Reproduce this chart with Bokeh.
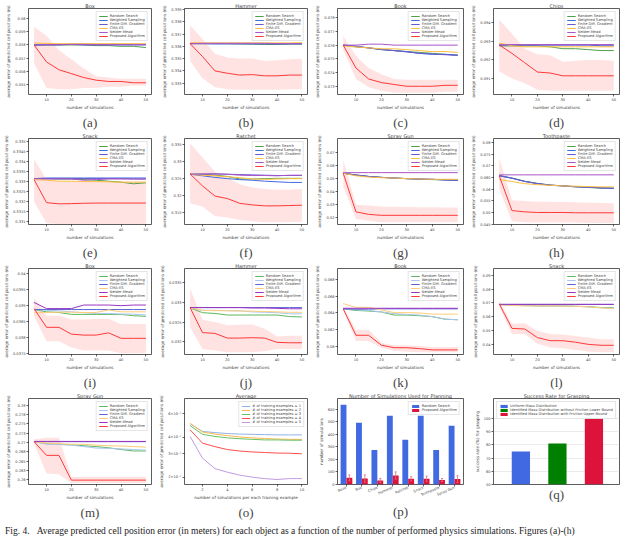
from bokeh.plotting import figure
from bokeh.models import Range1d, FixedTicker, Title, ColumnDataSource, FactorRange, Div
from bokeh.layouts import gridplot, column
from bokeh.transform import dodge
from bokeh.embed import file_html
from bokeh.resources import INLINE

# ---------------- data ----------------
X_SIM = [5, 10, 15, 20, 25, 30, 35, 40, 45, 50]
METHODS = ["Random Search", "Weighted Sampling", "Finite Diff. Gradient", "CMA-ES", "Nelder-Mead", "Proposed Algorithm"]

A_RS = [0.0580, 0.0580, 0.0580, 0.0580, 0.0580, 0.05795, 0.05795, 0.0579, 0.0579, 0.0578]
A_WS = [0.0580, 0.05805, 0.05805, 0.05805, 0.05805, 0.05805, 0.05805, 0.05805, 0.05805, 0.05805]
A_FD = [0.0580, 0.0580, 0.0580, 0.05805, 0.0580, 0.0580, 0.0580, 0.0580, 0.0580, 0.0580]
A_CM = [0.05815, 0.05812, 0.0581, 0.0581, 0.0581, 0.0581, 0.0581, 0.0581, 0.0581, 0.0581]
A_NM = [0.0580, 0.05803, 0.05803, 0.05805, 0.05805, 0.05803, 0.05803, 0.05803, 0.05803, 0.05803]
A_PA = [0.0580, 0.0567, 0.0561, 0.0558, 0.0555, 0.0553, 0.0552, 0.0552, 0.0551, 0.0551]
A_LO = [0.0566, 0.0547, 0.0546, 0.0546, 0.0547, 0.0547, 0.0548, 0.0548, 0.0549, 0.0549]
A_HI = [0.0594, 0.0587, 0.0576, 0.0569, 0.0562, 0.0556, 0.0555, 0.0554, 0.0554, 0.0554]

B_RS = [0.33622, 0.33622, 0.33622, 0.33622, 0.3362, 0.33618, 0.33615, 0.33615, 0.33618, 0.33618]
B_WS = [0.33622, 0.33622, 0.3362, 0.3362, 0.3362, 0.3362, 0.3362, 0.3362, 0.3362, 0.3362]
B_FD = [0.33622, 0.33622, 0.33622, 0.33622, 0.33622, 0.33622, 0.33622, 0.33622, 0.33622, 0.33622]
B_CM = [0.3363, 0.33628, 0.33628, 0.33628, 0.33628, 0.33628, 0.33628, 0.33628, 0.33628, 0.3363]
B_NM = [0.33622, 0.33625, 0.33625, 0.33625, 0.33625, 0.33625, 0.33625, 0.33622, 0.33622, 0.33622]
B_PA = [0.33622, 0.33517, 0.3340, 0.33381, 0.33366, 0.3337, 0.3336, 0.3336, 0.33366, 0.33366]
B_LO = [0.3348, 0.3334, 0.33268, 0.3325, 0.33246, 0.33246, 0.33246, 0.33246, 0.3325, 0.3325]
B_HI = [0.33772, 0.3366, 0.3354, 0.3351, 0.33502, 0.33502, 0.3348, 0.33487, 0.33495, 0.3350]

C_RS = [0.0760, 0.07587, 0.0758, 0.07567, 0.0756, 0.07553, 0.07547, 0.0754, 0.07533, 0.07527]
C_WS = [0.0760, 0.07593, 0.0758, 0.07567, 0.0756, 0.07553, 0.0754, 0.07533, 0.07533, 0.07527]
C_FD = [0.0760, 0.0759, 0.0758, 0.0757, 0.0756, 0.0755, 0.0754, 0.07535, 0.0753, 0.07525]
C_CM = [0.07593, 0.07587, 0.0758, 0.07573, 0.07573, 0.07567, 0.0756, 0.07553, 0.07553, 0.07547]
C_NM = [0.0760, 0.0760, 0.07607, 0.07607, 0.0760, 0.0760, 0.0760, 0.0760, 0.0760, 0.0760]
C_PA = [0.0760, 0.07433, 0.07353, 0.07327, 0.07313, 0.0730, 0.0730, 0.0730, 0.07307, 0.07307]
C_LO = [0.07567, 0.07353, 0.07293, 0.07267, 0.07253, 0.07253, 0.07253, 0.07253, 0.0726, 0.0726]
C_HI = [0.07667, 0.0752, 0.07433, 0.07387, 0.07353, 0.07347, 0.07347, 0.07347, 0.07347, 0.07347]

D_RS = [0.09275, 0.09275, 0.09275, 0.09275, 0.0927, 0.0926, 0.0926, 0.09255, 0.0925, 0.0925]
D_WS = [0.0928, 0.0928, 0.0928, 0.0928, 0.0928, 0.0928, 0.0928, 0.0928, 0.09275, 0.09275]
D_FD = [0.0928, 0.0928, 0.0928, 0.0928, 0.0928, 0.0928, 0.0928, 0.0928, 0.0928, 0.0928]
D_CM = [0.0929, 0.09275, 0.0927, 0.0927, 0.0927, 0.0927, 0.0927, 0.0927, 0.0927, 0.0927]
D_NM = [0.0928, 0.09282, 0.09282, 0.09282, 0.09282, 0.09282, 0.09282, 0.09282, 0.09282, 0.09282]
D_PA = [0.0928, 0.09235, 0.09185, 0.09135, 0.0913, 0.09115, 0.09115, 0.09115, 0.09115, 0.09115]
D_LO = [0.0914, 0.0910, 0.09075, 0.0904, 0.09035, 0.09035, 0.09035, 0.09035, 0.09035, 0.09035]
D_HI = [0.09415, 0.0934, 0.0926, 0.0923, 0.09225, 0.0919, 0.09195, 0.0920, 0.0920, 0.09195]

E_RS = [0.33313, 0.33313, 0.33311, 0.33311, 0.33308, 0.33305, 0.3330, 0.33295, 0.33287, 0.33292]
E_WS = [0.33313, 0.33316, 0.33316, 0.33316, 0.33316, 0.33316, 0.33316, 0.33316, 0.33316, 0.33316]
E_FD = [0.33313, 0.33313, 0.33313, 0.33313, 0.33313, 0.33313, 0.33313, 0.33313, 0.33311, 0.33311]
E_CM = [0.33308, 0.33305, 0.3330, 0.3330, 0.33298, 0.33298, 0.33297, 0.33295, 0.33295, 0.33295]
E_NM = [0.33313, 0.33311, 0.33311, 0.33311, 0.33305, 0.33308, 0.33311, 0.33311, 0.33311, 0.33311]
E_PA = [0.33308, 0.33193, 0.33187, 0.33188, 0.3319, 0.33191, 0.33191, 0.33191, 0.33191, 0.33191]
E_LO = [0.33198, 0.3309, 0.33087, 0.33087, 0.33087, 0.33087, 0.33087, 0.33087, 0.33087, 0.33087]
E_HI = [0.3341, 0.33308, 0.3330, 0.3330, 0.3330, 0.3330, 0.3330, 0.3330, 0.3330, 0.3330]

F_RS = [0.3262, 0.3262, 0.32592, 0.32556, 0.32481, 0.32481, 0.32491, 0.3250, 0.3250, 0.3250]
F_WS = [0.3262, 0.32574, 0.32528, 0.32491, 0.32463, 0.32444, 0.32417, 0.32398, 0.3238, 0.3238]
F_FD = [0.3262, 0.3262, 0.3263, 0.3262, 0.32611, 0.32602, 0.32592, 0.32583, 0.32583, 0.32583]
F_CM = [0.3262, 0.32592, 0.32574, 0.32546, 0.32519, 0.32481, 0.32472, 0.32481, 0.32491, 0.32491]
F_NM = [0.3262, 0.3263, 0.3263, 0.3262, 0.32592, 0.32583, 0.32583, 0.32574, 0.32592, 0.32592]
F_PA = [0.3263, 0.32278, 0.31981, 0.31907, 0.31768, 0.31722, 0.31694, 0.31694, 0.31704, 0.31713]
F_LO = [0.31768, 0.31676, 0.31398, 0.31352, 0.31278, 0.31241, 0.31213, 0.31213, 0.31213, 0.31231]
F_HI = [0.33528, 0.33111, 0.32694, 0.32509, 0.32324, 0.32231, 0.32185, 0.32167, 0.32167, 0.32185]

G_RS = [0.05415, 0.05293, 0.0517, 0.05097, 0.05049, 0.0500, 0.0495, 0.04926, 0.04902, 0.04902]
G_WS = [0.05415, 0.05268, 0.0517, 0.05097, 0.05049, 0.0500, 0.04975, 0.0495, 0.04902, 0.04853]
G_FD = [0.05415, 0.0528, 0.0517, 0.0510, 0.0505, 0.0500, 0.0497, 0.0495, 0.0490, 0.0487]
G_CM = [0.05415, 0.0522, 0.05122, 0.05073, 0.05049, 0.0500, 0.04975, 0.0495, 0.0495, 0.0495]
G_NM = [0.05463, 0.05463, 0.05463, 0.05463, 0.05463, 0.05463, 0.05463, 0.05463, 0.05463, 0.05463]
G_PA = [0.05415, 0.02437, 0.02242, 0.02168, 0.02168, 0.02168, 0.02168, 0.02168, 0.02168, 0.02168]
G_LO = [0.04438, 0.01876, 0.01754, 0.01632, 0.01632, 0.01632, 0.01632, 0.01632, 0.01632, 0.01632]
G_HI = [0.06439, 0.02976, 0.02927, 0.02854, 0.0283, 0.0281, 0.0280, 0.0279, 0.0278, 0.02779]

H_RS = [0.06582, 0.06475, 0.0634, 0.06245, 0.06178, 0.06137, 0.06096, 0.06069, 0.06042, 0.06029]
H_WS = [0.06569, 0.06461, 0.06326, 0.06232, 0.06164, 0.06137, 0.0611, 0.06083, 0.06056, 0.06042]
H_FD = [0.06575, 0.0647, 0.0633, 0.0624, 0.0617, 0.0614, 0.0610, 0.0608, 0.0605, 0.0604]
H_CM = [0.06407, 0.06326, 0.06232, 0.06191, 0.06164, 0.06137, 0.06124, 0.0611, 0.06096, 0.06096]
H_NM = [0.0661, 0.0661, 0.0661, 0.0661, 0.0661, 0.0661, 0.0661, 0.0661, 0.0661, 0.0661]
H_PA = [0.06569, 0.05084, 0.0503, 0.05003, 0.05003, 0.05003, 0.0499, 0.0499, 0.0499, 0.0499]
H_LO = [0.06002, 0.04625, 0.04584, 0.04571, 0.04571, 0.04571, 0.04571, 0.04557, 0.04557, 0.04544]
H_HI = [0.07325, 0.0553, 0.05489, 0.05462, 0.05462, 0.05448, 0.05435, 0.05421, 0.05408, 0.05395]

I_RS = [0.03887, 0.0388, 0.03878, 0.03872, 0.03872, 0.03872, 0.03872, 0.03872, 0.03868, 0.03866]
I_WS = [0.03887, 0.03885, 0.03883, 0.0388, 0.03877, 0.03875, 0.03875, 0.03873, 0.03873, 0.0387]
I_FD = [0.03887, 0.03887, 0.03887, 0.03887, 0.03887, 0.03887, 0.03887, 0.03887, 0.03887, 0.03887]
I_CM = [0.03877, 0.03878, 0.03879, 0.03879, 0.03878, 0.03878, 0.03886, 0.0388, 0.0388, 0.0388]
I_NM = [0.03909, 0.0389, 0.0389, 0.0389, 0.03901, 0.03901, 0.03901, 0.03899, 0.03901, 0.03901]
I_PA = [0.0389, 0.03832, 0.03832, 0.03811, 0.03808, 0.03808, 0.03815, 0.03798, 0.03798, 0.03798]
I_LO = [0.03866, 0.03789, 0.03789, 0.0377, 0.0376, 0.0376, 0.0376, 0.03752, 0.03752, 0.03752]
I_HI = [0.03923, 0.03868, 0.03868, 0.03856, 0.03856, 0.03858, 0.03858, 0.03842, 0.03842, 0.03842]

J_RS = [0.03286, 0.03274, 0.03272, 0.03268, 0.03268, 0.03268, 0.03268, 0.03268, 0.03264, 0.03263]
J_WS = [0.03286, 0.0328, 0.0328, 0.03279, 0.03279, 0.03276, 0.03275, 0.03274, 0.03271, 0.03271]
J_FD = [0.03287, 0.03287, 0.03287, 0.03287, 0.03287, 0.03287, 0.03287, 0.03287, 0.03287, 0.03287]
J_CM = [0.03286, 0.0328, 0.03279, 0.03279, 0.03278, 0.03278, 0.03277, 0.03276, 0.03275, 0.03275]
J_NM = [0.03287, 0.03287, 0.03287, 0.03287, 0.03287, 0.03286, 0.03286, 0.03285, 0.03284, 0.03284]
J_PA = [0.03287, 0.03223, 0.03221, 0.03209, 0.03209, 0.0321, 0.03209, 0.03198, 0.03197, 0.03197]
J_LO = [0.03237, 0.03181, 0.03177, 0.03173, 0.03173, 0.03173, 0.03175, 0.03181, 0.03181, 0.03181]
J_HI = [0.03336, 0.03256, 0.0325, 0.03242, 0.03243, 0.03244, 0.03233, 0.03213, 0.03215, 0.03215]

K_RS = [0.06449, 0.0643, 0.06423, 0.06412, 0.06375, 0.06375, 0.06367, 0.06356, 0.06326, 0.06319]
K_WS = [0.06449, 0.06437, 0.0643, 0.06412, 0.06393, 0.06382, 0.06375, 0.06356, 0.06326, 0.06319]
K_FD = [0.06449, 0.06445, 0.06445, 0.06449, 0.06449, 0.06449, 0.06449, 0.06449, 0.06449, 0.06449]
K_CM = [0.06511, 0.06467, 0.06467, 0.06437, 0.06404, 0.06404, 0.0640, 0.06386, 0.06386, 0.06386]
K_NM = [0.06456, 0.06456, 0.06456, 0.06456, 0.06456, 0.06456, 0.06456, 0.06456, 0.06456, 0.06456]
K_PA = [0.06449, 0.06134, 0.06134, 0.06016, 0.05986, 0.05986, 0.05975, 0.0596, 0.0596, 0.0596]
K_LO = [0.0643, 0.06067, 0.06067, 0.05986, 0.05949, 0.05938, 0.05931, 0.05931, 0.05931, 0.05931]
K_HI = [0.06467, 0.06201, 0.06201, 0.06042, 0.06016, 0.06016, 0.06005, 0.05993, 0.05993, 0.05993]

L_RS = [0.06869, 0.06847, 0.06847, 0.0678, 0.0678, 0.0678, 0.06758, 0.06736, 0.06669, 0.06647]
L_WS = [0.06869, 0.06824, 0.06802, 0.0678, 0.0678, 0.0678, 0.06758, 0.06713, 0.06647, 0.06602]
L_FD = [0.06891, 0.06891, 0.06891, 0.06891, 0.06891, 0.06891, 0.06891, 0.06891, 0.06891, 0.06891]
L_CM = [0.06869, 0.06824, 0.0678, 0.0678, 0.0678, 0.0678, 0.06758, 0.06713, 0.06647, 0.0658]
L_NM = [0.0690, 0.0690, 0.0690, 0.0690, 0.0690, 0.0690, 0.0690, 0.0690, 0.0690, 0.0690]
L_PA = [0.06935, 0.05159, 0.05115, 0.04493, 0.04271, 0.04271, 0.0416, 0.04004, 0.03938, 0.03938]
L_LO = [0.06713, 0.0476, 0.0476, 0.0405, 0.03783, 0.03716, 0.03605, 0.03494, 0.03428, 0.03428]
L_HI = [0.07157, 0.05492, 0.05537, 0.04982, 0.0476, 0.04715, 0.04604, 0.04493, 0.04382, 0.04382]

M_RS = [0.27023, 0.26969, 0.26953, 0.26938, 0.26914, 0.26891, 0.26859, 0.26813, 0.26773, 0.26773]
M_WS = [0.27023, 0.26953, 0.26945, 0.2693, 0.26891, 0.26852, 0.26844, 0.26828, 0.26813, 0.26797]
M_FD = [0.27023, 0.27023, 0.27023, 0.27023, 0.27023, 0.27023, 0.27023, 0.27023, 0.27023, 0.27023]
M_CM = [0.27023, 0.26984, 0.26969, 0.26953, 0.26953, 0.2693, 0.26914, 0.26906, 0.26891, 0.26875]
M_NM = [0.2703, 0.2703, 0.2703, 0.2703, 0.2703, 0.2703, 0.2703, 0.2703, 0.2703, 0.2703]
M_PA = [0.27023, 0.26656, 0.26656, 0.25992, 0.25992, 0.25992, 0.25992, 0.25992, 0.25992, 0.25992]
M_LO = [0.26969, 0.26172, 0.26148, 0.25914, 0.25914, 0.25914, 0.25914, 0.25914, 0.25914, 0.25914]
M_HI = [0.27086, 0.27125, 0.27125, 0.26086, 0.26086, 0.26086, 0.26086, 0.26086, 0.26086, 0.26086]

X_TRAIN = [1, 2, 3, 4, 5, 6, 7, 8, 9, 10]
O_LABELS = ["# of training examples = 1", "# of training examples = 2", "# of training examples = 3",
            "# of training examples = 4", "# of training examples = 5"]
O_N1 = [0.0505, 0.0443, 0.0434, 0.0427, 0.0423, 0.0421, 0.0419, 0.0417, 0.0417, 0.0417]
O_N2 = [0.0510, 0.0438, 0.0423, 0.0412, 0.0402, 0.0396, 0.0392, 0.0388, 0.0386, 0.0386]
O_N3 = [0.0490, 0.0421, 0.0406, 0.0396, 0.0390, 0.0386, 0.0382, 0.0382, 0.0380, 0.0380]
O_N4 = [0.0456, 0.0361, 0.0340, 0.0323, 0.0315, 0.0310, 0.0307, 0.0304, 0.0303, 0.0300]
O_N5 = [0.0406, 0.0278, 0.0232, 0.0218, 0.0207, 0.0200, 0.0195, 0.0192, 0.0195, 0.0195]
O_TICKS = [0.02, 0.03, 0.04, 0.06]
O_TICK_LABELS = ["2×10⁻²", "3×10⁻²", "4×10⁻²", "6×10⁻²"]

P_OBJECTS = ["Book", "Box", "Chips", "Hammer", "Ratchet", "Snack", "Toothpaste", "Spray Gun"]
P_RS = [638, 494, 275, 549, 357, 549, 275, 470]
P_PA = [53, 48, 31, 72, 46, 46, 36, 43]
P_ERR = [24, 29, 17, 29, 17, 21, 12, 27]

Q_METHODS = ["Uniform Mass Distribution",
             "Identified Mass Distribution without Friction Lower Bound",
             "Identified Mass Distribution with Friction Upper Bound"]
Q_POS = [0, 1, 2]
Q_RATE = [75, 81, 100]

# ---------------- styling ----------------
W, H = 156, 130
COL_TOP = ["#4f9f4f", "#4169e1", "#6a5acd", "#ffbf3f", "#a855c8", "#ff3838"]
COL_BOT = ["#5cb85c", "#a9c6f0", "#5b63d6", "#ffcc77", "#9a34c0", "#ff3838"]
O_COLORS = ["#8fb3e8", "#ffb84d", "#66c266", "#ff4d4d", "#c09ae0"]
FONT = "DejaVu Sans"


def base_fig(title, xr, yr, **kw):
    p = figure(width=W, height=H, output_backend="svg", toolbar_location=None,
               x_range=xr, y_range=yr, title=title,
               min_border_left=2, min_border_right=5, min_border_top=0, min_border_bottom=0, **kw)
    p.outline_line_color = "#333333"
    p.outline_line_width = 0.8
    p.xgrid.visible = False
    p.ygrid.visible = False
    p.background_fill_color = "white"
    p.border_fill_color = "white"
    for ax in list(p.xaxis) + list(p.yaxis):
        ax.axis_line_color = None
        ax.major_tick_out = 2
        ax.major_tick_in = 0
        ax.major_tick_line_width = 0.6
        ax.minor_tick_line_color = None
        ax.major_label_text_font_size = "3.6px"
        ax.major_label_text_font = FONT
        ax.major_label_standoff = 1
        ax.axis_label_text_font_size = "4.2px"
        ax.axis_label_text_font = FONT
        ax.axis_label_text_font_style = "normal"
        ax.axis_label_standoff = 1
    p.title.text_font_size = "5px"
    p.title.text_font = FONT
    p.title.text_font_style = "normal"
    p.title.align = "center"
    p.title.standoff = 0
    p.title.offset = 0
    return p


def sub_label(p, txt):
    p.add_layout(Title(text=txt, align="center", text_font_size="13px",
                       text_font="Liberation Serif", text_font_style="normal",
                       standoff=1), "below")


def style_legend(p, loc="top_right"):
    lg = p.legend[0]
    lg.location = loc
    lg.label_text_font_size = "3.6px"
    lg.label_text_font = FONT
    lg.glyph_height = 4
    lg.glyph_width = 9
    lg.label_height = 4
    lg.spacing = 0
    lg.padding = 2
    lg.margin = 3
    lg.label_standoff = 2
    lg.border_line_color = "#cccccc"
    lg.border_line_width = 0.5
    lg.background_fill_alpha = 0.85


def line_panel(title, lab, series, lo, hi, yr, yticks, colors):
    p = base_fig(title, Range1d(2.75, 52.25), Range1d(*yr))
    p.xaxis.ticker = FixedTicker(ticks=[10, 20, 30, 40, 50])
    p.yaxis.ticker = FixedTicker(ticks=yticks)
    p.xaxis.axis_label = "number of simulations"
    p.yaxis.axis_label = "average error of predicted cell positions (m)"
    p.varea(x=X_SIM, y1=lo, y2=hi, fill_color="#ff4040", fill_alpha=0.15)
    for ys, name, c in zip(series, METHODS, colors):
        p.line(X_SIM, ys, line_color=c, line_width=1, legend_label=name)
    style_legend(p)
    sub_label(p, lab)
    return p


def steps(a, b, s):
    out, v = [], a
    while v <= b + 1e-12:
        out.append(round(v, 6))
        v += s
    return out


pa = line_panel("Box", "(a)", [A_RS, A_WS, A_FD, A_CM, A_NM, A_PA], A_LO, A_HI,
                (0.0542, 0.0608), steps(0.055, 0.060, 0.001), COL_TOP)
pb = line_panel("Hammer", "(b)", [B_RS, B_WS, B_FD, B_CM, B_NM, B_PA], B_LO, B_HI,
                (0.33208, 0.33908), steps(0.333, 0.339, 0.001), COL_TOP)
pc = line_panel("Book", "(c)", [C_RS, C_WS, C_FD, C_CM, C_NM, C_PA], C_LO, C_HI,
                (0.0724, 0.07867), steps(0.073, 0.078, 0.001), COL_TOP)
pd = line_panel("Chips", "(d)", [D_RS, D_WS, D_FD, D_CM, D_NM, D_PA], D_LO, D_HI,
                (0.09015, 0.09475), steps(0.091, 0.094, 0.001), COL_TOP)
pe = line_panel("Snack", "(e)", [E_RS, E_WS, E_FD, E_CM, E_NM, E_PA], E_LO, E_HI,
                (0.33084, 0.33513), steps(0.331, 0.335, 0.0005), COL_TOP)
pf = line_panel("Ratchet", "(f)", [F_RS, F_WS, F_FD, F_CM, F_NM, F_PA], F_LO, F_HI,
                (0.31148, 0.33667), steps(0.315, 0.335, 0.005), COL_TOP)
pg = line_panel("Spray Gun", "(g)", [G_RS, G_WS, G_FD, G_CM, G_NM, G_PA], G_LO, G_HI,
                (0.0146, 0.0810), steps(0.02, 0.07, 0.01), COL_TOP)
ph = line_panel("Toothpaste", "(h)", [H_RS, H_WS, H_FD, H_CM, H_NM, H_PA], H_LO, H_HI,
                (0.0449, 0.08162), steps(0.045, 0.080, 0.005), COL_TOP)
pi = line_panel("Box", "(i)", [I_RS, I_WS, I_FD, I_CM, I_NM, I_PA], I_LO, I_HI,
                (0.03748, 0.04014), steps(0.0375, 0.0400, 0.0005), COL_BOT)
pj = line_panel("Hammer", "(j)", [J_RS, J_WS, J_FD, J_CM, J_NM, J_PA], J_LO, J_HI,
                (0.03167, 0.03387), steps(0.032, 0.0335, 0.0005), COL_BOT)
pk = line_panel("Book", "(k)", [K_RS, K_WS, K_FD, K_CM, K_NM, K_PA], K_LO, K_HI,
                (0.05905, 0.0693), steps(0.060, 0.068, 0.002), COL_BOT)
pl = line_panel("Snack", "(l)", [L_RS, L_WS, L_FD, L_CM, L_NM, L_PA], L_LO, L_HI,
                (0.03272, 0.0949), steps(0.04, 0.09, 0.01), COL_BOT)
pm = line_panel("Spray Gun", "(m)", [M_RS, M_WS, M_FD, M_CM, M_NM, M_PA], M_LO, M_HI,
                (0.25875, 0.2818), steps(0.26, 0.28, 0.0025), COL_BOT)

# (o) average, log scale
po = base_fig("Average", Range1d(0.55, 10.45), Range1d(0.0176, 0.0785), y_axis_type="log")
po.xaxis.ticker = FixedTicker(ticks=[2, 4, 6, 8, 10])
po.yaxis.ticker = FixedTicker(ticks=O_TICKS)
po.yaxis.major_label_overrides = {t: s for t, s in zip(O_TICKS, O_TICK_LABELS)}
po.xaxis.axis_label = "number of simulations per each training example"
po.yaxis.axis_label = "average error of predicted cell positions (m)"
for ys, name, c in zip([O_N1, O_N2, O_N3, O_N4, O_N5], O_LABELS, O_COLORS):
    po.line(X_TRAIN, ys, line_color=c, line_width=1, legend_label=name)
style_legend(po)
sub_label(po, "(o)")

# (p) bar chart
src_p = ColumnDataSource(dict(obj=P_OBJECTS, rs=P_RS, pa=P_PA,
                              lo=[a - e for a, e in zip(P_PA, P_ERR)],
                              hi=[a + e for a, e in zip(P_PA, P_ERR)]))
pp = base_fig("Number of Simulations Used for Planning", FactorRange(factors=P_OBJECTS, range_padding=0.02),
              Range1d(0, 687))
pp.vbar(x=dodge("obj", -0.19, range=pp.x_range), top="rs", width=0.38, source=src_p,
        fill_color="#4169e1", line_color=None, legend_label="Random Search")
pp.vbar(x=dodge("obj", 0.19, range=pp.x_range), top="pa", width=0.38, source=src_p,
        fill_color="#dc143c", line_color=None, legend_label="Proposed Algorithm")
pp.segment(x0=dodge("obj", 0.19, range=pp.x_range), y0="lo", x1=dodge("obj", 0.19, range=pp.x_range),
           y1="hi", source=src_p, line_color="#e07080", line_width=0.8)
for yy in ["lo", "hi"]:
    pp.segment(x0=dodge("obj", 0.12, range=pp.x_range), y0=yy, x1=dodge("obj", 0.26, range=pp.x_range),
               y1=yy, source=src_p, line_color="#e07080", line_width=0.8)
pp.yaxis.ticker = FixedTicker(ticks=[0, 100, 200, 300, 400, 500, 600])
pp.yaxis.axis_label = "number of simulations"
pp.xaxis.major_label_orientation = 0.4
style_legend(pp)
sub_label(pp, "(p)")

# (q) success rate
src_q = ColumnDataSource(dict(pos=Q_POS, rate=Q_RATE, method=Q_METHODS,
                              color=["#4169e1", "#008000", "#dc143c"]))
pq = base_fig("Success Rate for Grasping", Range1d(-0.75, 2.7), Range1d(50, 115))
pq.vbar(x="pos", top="rate", bottom=50, width=0.5, source=src_q, fill_color="color",
        line_color=None, legend_field="method")
pq.ygrid.visible = True
pq.ygrid.grid_line_color = "#dddddd"
pq.ygrid.grid_line_width = 0.6
pq.yaxis.ticker = FixedTicker(ticks=[50, 60, 70, 80, 90, 100])
pq.xaxis.ticker = FixedTicker(ticks=[])
pq.xaxis.major_tick_out = 13
pq.xaxis.major_tick_line_color = None
pq.yaxis.axis_label = "success rate (%) for grasping"
style_legend(pq, "top_center")
sub_label(pq, "(q)")

grid = gridplot([[pa, pb, pc, pd], [pe, pf, pg, ph], [pi, pj, pk, pl], [pm, po, pp, pq]],
                toolbar_location=None)

caption = Div(text="Fig. 4.&nbsp;&nbsp;&nbsp;Average predicted cell position error (in meters) for each object as a "
                   "function of the number of performed physics simulations. Figures (a)-(h)",
              width=624, height=12,
              styles={"font-family": "Liberation Serif", "font-size": "9.5px", "white-space": "nowrap",
                      "overflow": "hidden", "color": "#222"})

layout = column(grid, caption)
open("out.html", "w").write(file_html(layout, INLINE))
